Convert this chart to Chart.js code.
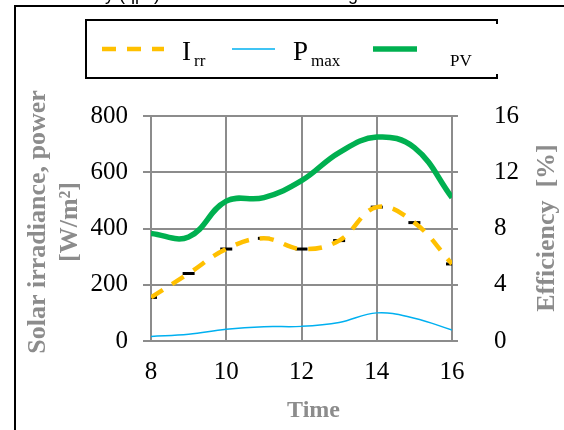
<!DOCTYPE html>
<html>
<head>
<meta charset="utf-8">
<script src="https://cdn.jsdelivr.net/npm/chart.js@4.4.1/dist/chart.umd.min.js"></script>
<style>
  html, body { margin: 0; padding: 0; background: #fff; }
  canvas { display: block; }
</style>
</head>
<body>
<canvas id="chart" width="564" height="430"></canvas>
<script>
const hours = [8, 9, 10, 11, 12, 13, 14, 15, 16];
const irradiance = [155, 240, 327, 365, 327, 357, 476, 421, 274];
const pmax = [16, 24, 42, 51, 52, 66, 100, 81, 39];
const efficiency = [7.65, 7.4, 9.95, 10.2, 11.4, 13.4, 14.5, 13.75, 10.2];

const timeTicks = [8, 10, 12, 14, 16];
const leftTicks = [0, 200, 400, 600, 800];
const rightTicks = [0, 4, 8, 12, 16];

// legend text: main part + subscript (the eta of eta_PV is missing in the source)
const legendNames = [["I", "rr"], ["P", "max"], ["", "PV"]];
const caption = "efficiency (\u03B7pv) of the PV module during";

const GRAY = "#8c8c8c";
const SERIF = "'Liberation Serif', 'Times New Roman', serif";

const toPoints = (ys) => hours.map((h, i) => ({ x: h, y: ys[i] }));
const fixedTicks = (list) => (scale) => {
  scale.ticks = list.map((v) => ({ value: v }));
};

const decorations = {
  id: "decorations",
  afterDraw(chart) {
    const ctx = chart.ctx;
    const ds = chart.data.datasets;
    ctx.save();

    // caption of the figure above, cut off by the picture edge (only descenders show)
    ctx.fillStyle = "#000";
    ctx.font = "18px 'Liberation Sans'";
    ctx.textBaseline = "alphabetic";
    ctx.fillText(caption, 105 - ctx.measureText("efficienc").width, -0.5);

    // outer frame
    ctx.strokeStyle = "#000";
    ctx.lineWidth = 2;
    ctx.beginPath();
    ctx.moveTo(15, 430);
    ctx.lineTo(15, 6);
    ctx.lineTo(564, 6);
    ctx.stroke();

    // legend box, right side only shows the corner stubs
    ctx.beginPath();
    ctx.moveTo(497, 24);
    ctx.lineTo(497, 20);
    ctx.lineTo(86, 20);
    ctx.lineTo(86, 78);
    ctx.lineTo(497, 78);
    ctx.lineTo(497, 74);
    ctx.stroke();

    // legend samples
    const sample = (d, x0, x1) => {
      ctx.save();
      ctx.strokeStyle = d.borderColor;
      ctx.lineWidth = d.borderWidth;
      ctx.setLineDash(d.borderDash || []);
      ctx.beginPath();
      ctx.moveTo(x0, 49);
      ctx.lineTo(x1, 49);
      ctx.stroke();
      ctx.restore();
    };
    sample(ds[0], 102, 164);
    sample(ds[1], 232, 275);
    sample(ds[2], 373, 417);

    const label = (name, x) => {
      ctx.fillStyle = "#000";
      ctx.font = "27px " + SERIF;
      ctx.fillText(name[0], x, 60);
      const w = name[0] ? ctx.measureText(name[0]).width + 3 : 0;
      ctx.font = "17px " + SERIF;
      ctx.fillText(name[1], x + w, 66);
    };
    label(legendNames[0], 182);
    label(legendNames[1], 293);
    label(legendNames[2], 450);

    // right axis title, reads bottom to top like the left one
    ctx.translate(547, 228);
    ctx.rotate(-Math.PI / 2);
    ctx.fillStyle = GRAY;
    ctx.font = "bold 26px " + SERIF;
    ctx.textAlign = "center";
    ctx.textBaseline = "middle";
    ctx.fillText("Efficiency  [%]", 0, 0);
    ctx.restore();
  },
};

new Chart(document.getElementById("chart"), {
  type: "line",
  data: {
    datasets: [
      {
        label: "Irr",
        data: toPoints(irradiance),
        yAxisID: "y",
        borderColor: "#FFC000",
        borderWidth: 4.5,
        borderDash: [14, 11],
        pointRadius: 0,
        tension: 0.4,
        order: 2,
      },
      {
        label: "Pmax",
        data: toPoints(pmax),
        yAxisID: "y",
        borderColor: "#00B0F0",
        borderWidth: 1.5,
        pointRadius: 0,
        tension: 0.4,
        order: 3,
      },
      {
        label: "PV",
        data: toPoints(efficiency),
        yAxisID: "y1",
        borderColor: "#00B050",
        borderWidth: 5.5,
        pointRadius: 0,
        tension: 0.4,
        order: 1,
      },
      {
        // black dash markers of the irradiance series, drawn under its line
        label: "Irr markers",
        data: toPoints(irradiance),
        yAxisID: "y",
        showLine: false,
        pointStyle: "line",
        pointRadius: 6,
        pointBorderWidth: 3,
        pointBorderColor: "#000",
        order: 5,
      },
    ],
  },
  options: {
    responsive: false,
    animation: false,
    devicePixelRatio: 1,
    layout: { padding: { top: 116, left: 0, right: 0, bottom: 0 } },
    plugins: {
      legend: { display: false },
      tooltip: { enabled: false },
    },
    scales: {
      x: {
        type: "linear",
        min: 8,
        max: 16,
        afterBuildTicks: fixedTicks(timeTicks),
        afterFit: (s) => { s.height = 89; },
        grid: { color: GRAY, lineWidth: 2, drawTicks: false },
        border: { color: GRAY, width: 2 },
        ticks: { color: "#000", padding: 16, font: { family: SERIF, size: 25 } },
        title: {
          display: true,
          text: "    Time",
          color: GRAY,
          padding: { top: 0, bottom: 4 },
          font: { family: SERIF, size: 24, weight: "bold", lineHeight: 1.3 },
        },
      },
      y: {
        position: "left",
        min: 0,
        max: 800,
        afterBuildTicks: fixedTicks(leftTicks),
        afterFit: (s) => { s.width = 151; },
        grid: { color: GRAY, lineWidth: 2, tickLength: 8 },
        border: { color: GRAY, width: 2 },
        ticks: { color: "#000", padding: 15, font: { family: SERIF, size: 25 } },
        title: {
          display: true,
          text: ["  Solar irradiance, power", "  [W/m\u00B2]"],
          color: GRAY,
          padding: { top: 22, bottom: 0 },
          font: { family: SERIF, size: 26, weight: "bold", lineHeight: 1.23 },
        },
      },
      y1: {
        position: "right",
        min: 0,
        max: 16,
        afterBuildTicks: fixedTicks(rightTicks),
        afterFit: (s) => { s.width = 112; },
        grid: { color: GRAY, lineWidth: 2, tickLength: 6, drawOnChartArea: false },
        border: { color: GRAY, width: 2 },
        ticks: { color: "#000", padding: 36, font: { family: SERIF, size: 25 } },
      },
    },
  },
  plugins: [decorations],
});
</script>
</body>
</html>
